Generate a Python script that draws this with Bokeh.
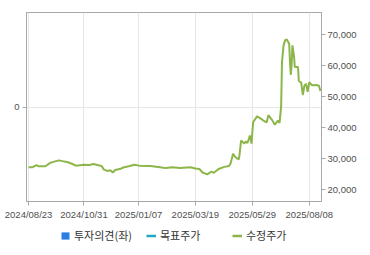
from datetime import datetime
import pandas as pd
from bokeh.plotting import figure
from bokeh.layouts import column
from bokeh.models import (Range1d, LinearAxis, FixedTicker, NumeralTickFormatter,
                          DatetimeTickFormatter, Legend, LegendItem, ColumnDataSource)
from bokeh.embed import file_html
from bokeh.resources import INLINE

# ---- data ----
dates = ["2024-08-23", "2024-08-28", "2024-09-02", "2024-09-04", "2024-09-13", "2024-09-19",
         "2024-09-24", "2024-09-30", "2024-10-07", "2024-10-11", "2024-10-16", "2024-10-21",
         "2024-10-31", "2024-11-07", "2024-11-12", "2024-11-18", "2024-11-22", "2024-11-25",
         "2024-11-29", "2024-12-03", "2024-12-06", "2024-12-09", "2024-12-16", "2024-12-20",
         "2024-12-26", "2025-01-02", "2025-01-08", "2025-01-22", "2025-02-03", "2025-02-10",
         "2025-02-18", "2025-02-28", "2025-03-13", "2025-03-19", "2025-03-24", "2025-03-28",
         "2025-04-03", "2025-04-08", "2025-04-11", "2025-04-17", "2025-04-24", "2025-04-30",
         "2025-05-02", "2025-05-05", "2025-05-08", "2025-05-12", "2025-05-13", "2025-05-15",
         "2025-05-19", "2025-05-21", "2025-05-23", "2025-05-26", "2025-05-28", "2025-05-30",
         "2025-06-04", "2025-06-10", "2025-06-13", "2025-06-16", "2025-06-18", "2025-06-23",
         "2025-06-26", "2025-06-30", "2025-07-02", "2025-07-04", "2025-07-05", "2025-07-07",
         "2025-07-09", "2025-07-11", "2025-07-14", "2025-07-15", "2025-07-16", "2025-07-17",
         "2025-07-18", "2025-07-20", "2025-07-21", "2025-07-25", "2025-07-26", "2025-07-29",
         "2025-07-30", "2025-07-31", "2025-08-02", "2025-08-04", "2025-08-06", "2025-08-08",
         "2025-08-10", "2025-08-12", "2025-08-17", "2025-08-20", "2025-08-22"]
prices = [27200, 27200, 27900, 27500, 27500, 28600,
          29000, 29400, 29000, 28800, 28300, 27700,
          28000, 27900, 28200, 27800, 27600, 26400,
          26000, 26200, 25500, 26300, 26700, 27200,
          27500, 28000, 27700, 27600, 27200, 26900,
          27200, 26900, 27200, 26800, 26600, 25500,
          24900, 25800, 25400, 26600, 27300, 27600,
          28500, 31500, 30400, 29700, 31000, 35800,
          34800, 35500, 35000, 37400, 34800, 41700,
          43600, 42600, 42000, 41700, 44000, 42300,
          40900, 42200, 41500, 47000, 61000, 66500,
          68200, 68400, 67000, 61000, 57000, 60000,
          66500, 63000, 59500, 59500, 55000, 54500,
          52500, 50500, 53500, 54100, 51500, 54600,
          54000, 53600, 53700, 53500, 51800]
tick_dates = ["2024-08-23", "2024-10-31", "2025-01-07", "2025-03-19", "2025-05-29", "2025-08-08"]
price_ticks = [20000, 30000, 40000, 50000, 60000, 70000]
opinion_ticks = [0]
legend_labels = ["투자의견(좌)", "목표주가", "수정주가"]
series_colors = ["#2b7fe0", "#1ea8c6", "#8cb64a"]

AXIS_COLOR = "#a8a8a8"
GRID_COLOR = "#e6e6e6"
LABEL_COLOR = "#505050"
TICK_FONT = "Liberation Sans"
TICK_SIZE = "9.5px"
NAN = float("nan")

src = ColumnDataSource(dict(date=pd.to_datetime(dates), price=prices))

p = figure(width=370, height=222, x_axis_type="datetime",
           x_range=Range1d(datetime(2024, 8, 20, 10), datetime(2025, 8, 23, 7)),
           y_range=Range1d(-1, 1),
           output_backend="svg", toolbar_location=None,
           min_border_left=26, min_border_right=49, min_border_top=12, min_border_bottom=21)
p.extra_y_ranges = {"price": Range1d(16130, 77100)}
p.outline_line_color = AXIS_COLOR
p.background_fill_color = "white"
p.border_fill_color = "white"

# bottom (date) axis
xa = p.xaxis[0]
xa.ticker = FixedTicker(ticks=[pd.Timestamp(d).value // 10**6 for d in tick_dates])
xa.formatter = DatetimeTickFormatter(days="%Y/%m/%d", months="%Y/%m/%d", years="%Y/%m/%d",
                                     hours="%Y/%m/%d", hourmin="%Y/%m/%d")
xa.axis_line_color = AXIS_COLOR
xa.major_tick_line_color = AXIS_COLOR
xa.major_tick_out = 4
xa.major_tick_in = 0
xa.minor_tick_line_color = None
xa.major_label_standoff = 3
xa.major_label_text_font = TICK_FONT
xa.major_label_text_font_size = TICK_SIZE
xa.major_label_text_color = LABEL_COLOR

# left (opinion) axis
ya = p.yaxis[0]
ya.ticker = FixedTicker(ticks=opinion_ticks)
ya.axis_line_color = AXIS_COLOR
ya.major_tick_line_color = AXIS_COLOR
ya.major_tick_out = 4
ya.major_tick_in = 0
ya.minor_tick_line_color = None
ya.major_label_standoff = 3
ya.major_label_text_font = TICK_FONT
ya.major_label_text_font_size = TICK_SIZE
ya.major_label_text_color = LABEL_COLOR

# right (price) axis
ra = LinearAxis(y_range_name="price", ticker=FixedTicker(ticks=price_ticks),
                formatter=NumeralTickFormatter(format="0,0"))
ra.axis_line_color = AXIS_COLOR
ra.major_tick_line_color = AXIS_COLOR
ra.major_tick_out = 4
ra.major_tick_in = 0
ra.minor_tick_line_color = None
ra.major_label_standoff = 2
ra.major_label_text_font = TICK_FONT
ra.major_label_text_font_size = TICK_SIZE
ra.major_label_text_color = LABEL_COLOR
p.add_layout(ra, "right")

p.xgrid.grid_line_color = GRID_COLOR
p.ygrid.grid_line_color = GRID_COLOR

# price series
p.line(x="date", y="price", source=src, line_color=series_colors[2], line_width=2,
       y_range_name="price")

# ---- legend strip (separate figure so the legend is not clipped) ----
lf = figure(width=370, height=33, x_range=Range1d(0, 1), y_range=Range1d(0, 1),
            output_backend="svg", toolbar_location=None,
            min_border_left=0, min_border_right=0, min_border_top=0, min_border_bottom=0)
lf.axis.visible = False
lf.grid.visible = False
lf.outline_line_color = None
lf.background_fill_color = "white"
lf.border_fill_color = "white"

g_op = lf.quad(left=[NAN], right=[NAN], top=[NAN], bottom=[NAN],
               fill_color=series_colors[0], line_color=None)
g_tp = lf.line(x=[NAN], y=[NAN], line_color=series_colors[1], line_width=2.5)
g_px = lf.line(x=[NAN], y=[NAN], line_color=series_colors[2], line_width=2.5)

legend = Legend(items=[LegendItem(label=lab, renderers=[r])
                       for lab, r in zip(legend_labels, [g_op, g_tp, g_px])],
                location=(34, 12), orientation="horizontal",
                glyph_width=10, glyph_height=9, label_height=16, label_width=66,
                label_standoff=4, spacing=6, padding=0, margin=0,
                border_line_color=None, background_fill_alpha=0,
                label_text_font="Noto Sans CJK KR", label_text_font_size="11px",
                label_text_color="#333333")
lf.add_layout(legend)

open("out.html", "w").write(file_html(column(p, lf, spacing=0), INLINE))
